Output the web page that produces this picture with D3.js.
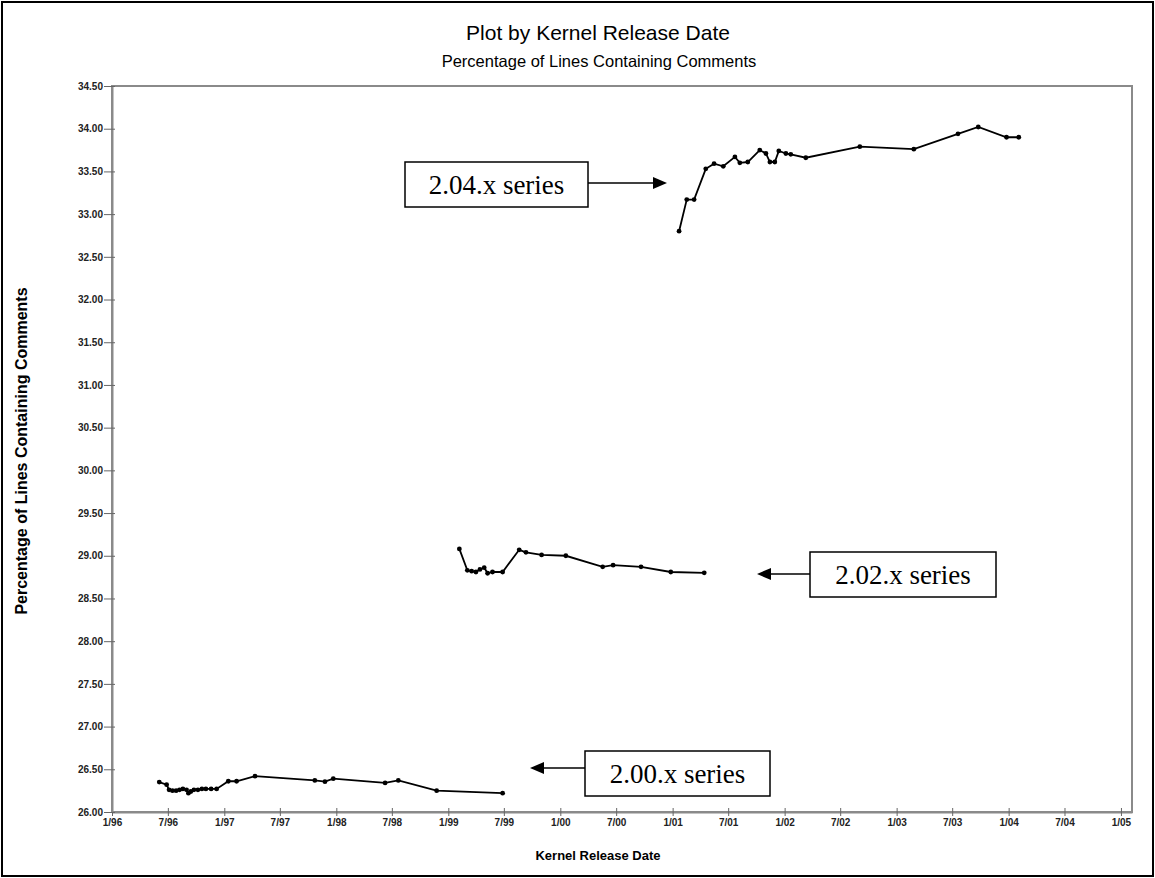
<!DOCTYPE html>
<html><head><meta charset="utf-8">
<script src="https://cdn.jsdelivr.net/npm/d3@7"></script>
<style>body{margin:0;background:#fff}svg{display:block}</style>
</head><body>
<script>
const s200Dates = ["1996-06-03","1996-06-27","1996-07-05","1996-07-16","1996-07-28","1996-08-08","1996-08-19","1996-08-31","1996-09-06","1996-09-14","1996-09-24","1996-10-07","1996-10-20","1996-11-02","1996-11-19","1996-12-07","1997-01-14","1997-02-10","1997-04-11","1997-10-23","1997-11-25","1997-12-22","1998-06-09","1998-07-22","1998-11-24","1999-06-27"];
const s200Values = [26.35,26.32,26.26,26.25,26.25,26.26,26.27,26.26,26.22,26.24,26.26,26.26,26.27,26.27,26.27,26.27,26.36,26.36,26.42,26.37,26.355,26.39,26.34,26.37,26.25,26.22];
const s202Dates = ["1999-02-06","1999-03-04","1999-03-18","1999-04-01","1999-04-14","1999-04-28","1999-05-09","1999-05-25","1999-06-27","1999-08-20","1999-09-11","1999-11-01","2000-01-19","2000-05-18","2000-06-21","2000-09-20","2000-12-26","2001-04-14"];
const s202Values = [29.08,28.83,28.82,28.81,28.84,28.86,28.795,28.81,28.81,29.07,29.04,29.01,29.00,28.87,28.89,28.87,28.81,28.80];
const s204Dates = ["2001-01-22","2001-02-16","2001-03-12","2001-04-19","2001-05-16","2001-06-15","2001-07-23","2001-08-08","2001-09-03","2001-10-12","2001-11-01","2001-11-14","2001-11-30","2001-12-13","2002-01-05","2002-01-21","2002-03-11","2002-09-03","2003-02-26","2003-07-20","2003-09-24","2003-12-25","2004-02-03"];
const s204Values = [32.80,33.17,33.17,33.53,33.59,33.56,33.67,33.60,33.61,33.75,33.71,33.61,33.61,33.74,33.71,33.70,33.66,33.79,33.76,33.94,34.02,33.90,33.90];
const xTickLabels = ["1/96","7/96","1/97","7/97","1/98","7/98","1/99","7/99","1/00","7/00","1/01","7/01","1/02","7/02","1/03","7/03","1/04","7/04","1/05"];
const yTickValues = [26,26.5,27,27.5,28,28.5,29,29.5,30,30.5,31,31.5,32,32.5,33,33.5,34,34.5];
const seriesLabels = ["2.00.x series","2.02.x series","2.04.x series"];

const W = 1155, H = 878;
const parse = d3.timeParse("%Y-%m-%d");
const svg = d3.select("body").append("svg").attr("width", W).attr("height", H);
const SANS = "Liberation Sans, Arial, sans-serif";

svg.append("rect").attr("x",2).attr("y",2).attr("width",W-4).attr("height",H-4)
  .attr("fill","#fff").attr("stroke","#000").attr("stroke-width",2);

const L = 112, R = 1132, T = 86, B = 812;
const x = d3.scaleTime().domain([parse("1996-01-01"), parse("2005-02-06")]).range([L, R]);
const y = d3.scaleLinear().domain([26, 34.5]).range([B, T]);

svg.append("rect").attr("x",L).attr("y",T).attr("width",R-L).attr("height",B-T)
  .attr("fill","none").attr("stroke","#8a8a8a").attr("stroke-width",2);

const xTicks = xTickLabels.map(s => { const [m, yy] = s.split("/"); return new Date(2000 + (+yy > 50 ? +yy - 100 : +yy), +m - 1, 1); });

const xAxis = svg.append("g").attr("transform", `translate(0,${B})`)
  .call(d3.axisBottom(x).tickValues(xTicks).tickFormat((d,i) => xTickLabels[i]).tickSizeInner(4).tickSizeOuter(0).tickPadding(3));
xAxis.select(".domain").attr("stroke","#8a8a8a").attr("stroke-width",2);
xAxis.selectAll(".tick line").attr("stroke","#666").attr("y1",-4).attr("y2",4);
xAxis.selectAll("text").attr("font-family",SANS).attr("font-size",10).attr("fill","#222").attr("font-weight","bold").attr("dy","0.71em");

const yAxis = svg.append("g").attr("transform", `translate(${L},0)`)
  .call(d3.axisLeft(y).tickValues(yTickValues).tickFormat(d3.format(".2f")).tickSizeInner(8).tickSizeOuter(0).tickPadding(1));
yAxis.select(".domain").attr("stroke","#8a8a8a").attr("stroke-width",2);
yAxis.selectAll(".tick line").attr("stroke","#666").attr("x1",-8).attr("x2",3);
yAxis.selectAll("text").attr("font-family",SANS).attr("font-size",10).attr("fill","#222").attr("font-weight","bold");

svg.append("text").attr("x",598).attr("y",40).attr("text-anchor","middle")
  .attr("font-family",SANS).attr("font-size",21).text("Plot by Kernel Release Date");
svg.append("text").attr("x",599).attr("y",67).attr("text-anchor","middle")
  .attr("font-family",SANS).attr("font-size",16.5).text("Percentage of Lines Containing Comments");
svg.append("text").attr("x",598).attr("y",860).attr("text-anchor","middle")
  .attr("font-family",SANS).attr("font-size",13).attr("font-weight","bold").text("Kernel Release Date");
svg.append("text").attr("transform","translate(27,451) rotate(-90)").attr("text-anchor","middle")
  .attr("font-family",SANS).attr("font-size",16).attr("font-weight","bold")
  .text("Percentage of Lines Containing Comments");

const series = [
  s200Dates.map((d,i) => ({d: parse(d), v: s200Values[i]})),
  s202Dates.map((d,i) => ({d: parse(d), v: s202Values[i]})),
  s204Dates.map((d,i) => ({d: parse(d), v: s204Values[i]}))
];
const line = d3.line().x(p => x(p.d)).y(p => y(p.v));
series.forEach(s => {
  svg.append("path").datum(s).attr("d", line).attr("fill","none").attr("stroke","#000").attr("stroke-width",1.8);
  svg.selectAll(null).data(s).enter().append("circle")
    .attr("cx", p => x(p.d)).attr("cy", p => y(p.v)).attr("r",2.4).attr("fill","#000");
});

function arrow(x1, y1, x2, y2) {
  const dir = Math.sign(x2 - x1);
  svg.append("line").attr("x1",x1).attr("y1",y1).attr("x2",x2 - dir*10).attr("y2",y2).attr("stroke","#000").attr("stroke-width",1.5);
  svg.append("path").attr("d", `M${x2},${y2} L${x2 - dir*14},${y2-6} L${x2 - dir*14},${y2+6} Z`).attr("fill","#000");
}
function box(x0, y0, w, h, label) {
  svg.append("rect").attr("x",x0).attr("y",y0).attr("width",w).attr("height",h).attr("fill","#fff").attr("stroke","#000").attr("stroke-width",1.5);
  svg.append("text").attr("x",x0 + w/2).attr("y",y0 + h/2 + 9).attr("text-anchor","middle")
    .attr("font-family","Liberation Serif, Times New Roman, serif").attr("font-size",27).text(label);
}
box(405, 162, 183, 45, seriesLabels[2]); arrow(588, 183, 667, 183);
box(810, 552, 186, 45, seriesLabels[1]); arrow(810, 574, 757, 574);
box(585, 751, 185, 45, seriesLabels[0]); arrow(585, 768, 530, 768);
</script>
</body></html>
